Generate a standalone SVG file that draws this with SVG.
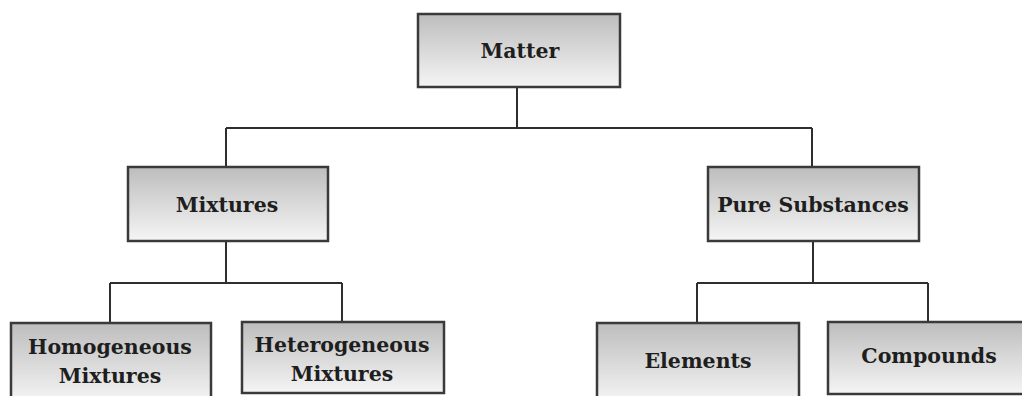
<svg xmlns="http://www.w3.org/2000/svg" width="1022" height="396" viewBox="0 0 1022 396">
<defs>
<linearGradient id="g" x1="0" y1="0" x2="0" y2="1">
<stop offset="0" stop-color="#bdbdbd"/>
<stop offset="1" stop-color="#f5f5f5"/>
</linearGradient>
</defs>
<style>
.box{fill:url(#g);stroke:#3a3a3a;stroke-width:2.5}
.t{font-family:"DejaVu Serif","Liberation Serif",serif;font-weight:bold;font-size:20.5px;fill:#1e1e1e;text-anchor:middle}
.c{fill:none;stroke:#2e2e2e;stroke-width:2}
</style>
<rect width="1022" height="396" fill="#ffffff"/>
<g id="connectors">
<path class="c" d="M517 87V128M226 128H812M226 128V167M812 128V167"/>
<path class="c" d="M226 241V283M110 283H342M110 283V323M342 283V322"/>
<path class="c" d="M813 241V283M697 283H928M697 283V323M928 283V322"/>
</g>
<g id="matter"><rect class="box" x="418" y="14" width="202" height="73"/><text class="t" x="520" y="58">Matter</text></g>
<g id="mixtures"><rect class="box" x="128" y="167" width="200" height="74"/><text class="t" x="227" y="212">Mixtures</text></g>
<g id="pure"><rect class="box" x="708" y="167" width="211" height="74"/><text class="t" x="813" y="212">Pure Substances</text></g>
<g id="homogeneous"><rect class="box" x="11" y="323" width="200" height="80"/><text class="t" x="110" y="354">Homogeneous</text><text class="t" x="110" y="383">Mixtures</text></g>
<g id="heterogeneous"><rect class="box" x="242" y="322" width="202" height="71"/><text class="t" x="342" y="352">Heterogeneous</text><text class="t" x="342" y="381">Mixtures</text></g>
<g id="elements"><rect class="box" x="597" y="323" width="202" height="80"/><text class="t" x="698" y="368">Elements</text></g>
<g id="compounds"><rect class="box" x="828" y="322" width="200" height="72"/><text class="t" x="929" y="363">Compounds</text></g>
</svg>
